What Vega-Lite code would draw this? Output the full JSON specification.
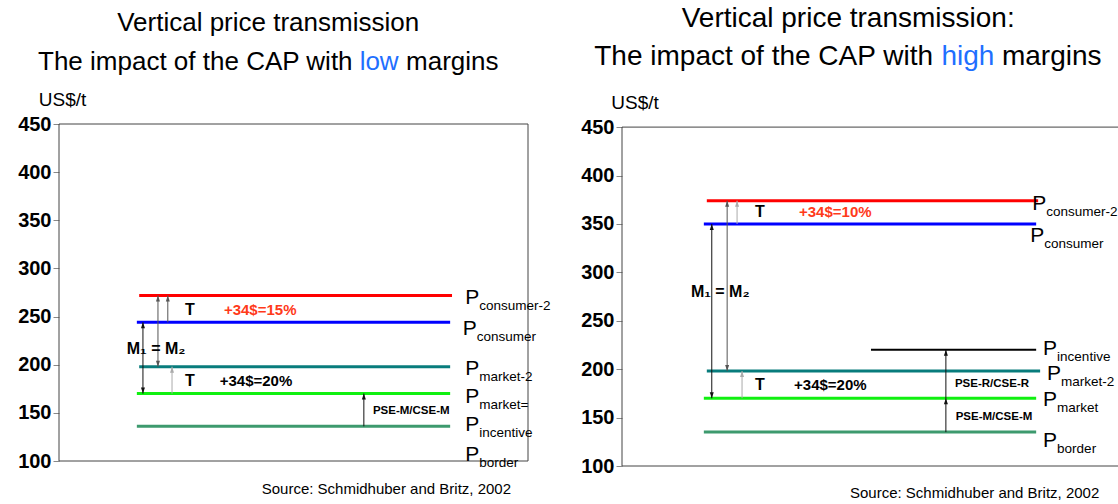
{
  "$schema": "https://vega.github.io/schema/vega-lite/v6.json",
  "background": "white",
  "padding": {"left": 17, "top": 4, "right": 0, "bottom": 0},
  "bounds": "flush",
  "spacing": 94,
  "config": {"view": {"stroke": null}, "font": "Liberation Sans"},
  "datasets": {
    "frameL": [
      {"k": "frame", "x": 0, "x2": 100, "y": 450, "y2": 450},
      {"k": "frame", "x": 0, "x2": 100, "y": 100, "y2": 100},
      {"k": "frame", "x": 0, "x2": 0, "y": 100, "y2": 450},
      {"k": "frame", "x": 100, "x2": 100, "y": 100, "y2": 450}
    ],
    "frameR": [
      {"k": "frame", "x": 0, "x2": 100, "y": 450, "y2": 450},
      {"k": "frame", "x": 0, "x2": 100, "y": 100, "y2": 100},
      {"k": "frame", "x": 0, "x2": 0, "y": 100, "y2": 450}
    ],
    "linesL": [
      {"k": "consumer-2", "x": 17.1, "x2": 83.8, "y": 272},
      {"k": "consumer", "x": 16.6, "x2": 83.4, "y": 244},
      {"k": "market-2", "x": 17.1, "x2": 83.4, "y": 198},
      {"k": "market", "x": 16.6, "x2": 83.4, "y": 170},
      {"k": "border", "x": 16.6, "x2": 83.4, "y": 136}
    ],
    "linesR": [
      {"k": "consumer-2", "x": 17.1, "x2": 83.9, "y": 374},
      {"k": "consumer", "x": 16.5, "x2": 83.5, "y": 350},
      {"k": "incentive", "x": 50.2, "x2": 83.5, "y": 220},
      {"k": "market-2", "x": 17.1, "x2": 84.3, "y": 198},
      {"k": "market", "x": 16.5, "x2": 83.5, "y": 170},
      {"k": "border", "x": 16.5, "x2": 83.5, "y": 135}
    ],
    "arrowsL": [
      {"k": "dark", "x": 17.9, "y": 170, "y2": 244, "top": true, "bottom": true},
      {"k": "mid", "x": 21.1, "y": 198, "y2": 272, "top": true, "bottom": true},
      {"k": "mid", "x": 23.2, "y": 244, "y2": 272, "top": true, "bottom": false},
      {"k": "light", "x": 24.1, "y": 170, "y2": 198, "top": true, "bottom": false},
      {"k": "dark", "x": 65.0, "y": 136, "y2": 170, "top": true, "bottom": false}
    ],
    "arrowsR": [
      {"k": "dark", "x": 18.1, "y": 170, "y2": 350, "top": true, "bottom": true},
      {"k": "mid", "x": 21.2, "y": 198, "y2": 374, "top": true, "bottom": true},
      {"k": "light", "x": 23.2, "y": 350, "y2": 374, "top": true, "bottom": false},
      {"k": "light", "x": 24.2, "y": 170, "y2": 198, "top": true, "bottom": false},
      {"k": "dark", "x": 65.3, "y": 135, "y2": 170, "top": true, "bottom": false},
      {"k": "dark", "x": 65.3, "y": 170, "y2": 220, "top": true, "bottom": false}
    ],
    "textL": [
      {"k": "ink", "sty": "t1", "x": 44.6, "y": 554.4, "text": "Vertical price transmission"},
      {"k": "ink", "sty": "t2r", "x": 62.6, "y": 513.9, "text": "The impact of the CAP with"},
      {"k": "blue", "sty": "t2l", "x": 64.1, "y": 513.9, "text": "low"},
      {"k": "ink", "sty": "t2l", "x": 74.0, "y": 513.9, "text": "margins"},
      {"k": "ink", "sty": "big", "x": 27.9, "y": 257, "text": "T"},
      {"k": "red", "sty": "pct", "x": 42.9, "y": 257, "text": "+34$=15%"},
      {"k": "ink", "sty": "big", "x": 20.7, "y": 216, "text": "M₁ = M₂"},
      {"k": "ink", "sty": "big", "x": 27.9, "y": 183, "text": "T"},
      {"k": "ink", "sty": "pct", "x": 42.0, "y": 183, "text": "+34$=20%"},
      {"k": "ink", "sty": "small", "x": 75.1, "y": 152, "text": "PSE-M/CSE-M"},
      {"k": "ink", "sty": "src", "x": 69.8, "y": 71, "text": "Source: Schmidhuber and Britz, 2002"}
    ],
    "textR": [
      {"k": "ink", "sty": "t1", "x": 45.6, "y": 561.7, "text": "Vertical price transmission:"},
      {"k": "ink", "sty": "t2r", "x": 62.7, "y": 522.1, "text": "The impact of the CAP with"},
      {"k": "blue", "sty": "t2l", "x": 64.4, "y": 522.1, "text": "high"},
      {"k": "ink", "sty": "t2l", "x": 76.6, "y": 522.1, "text": "margins"},
      {"k": "ink", "sty": "big", "x": 27.8, "y": 362, "text": "T"},
      {"k": "red", "sty": "pct", "x": 43.0, "y": 362, "text": "+34$=10%"},
      {"k": "ink", "sty": "big", "x": 19.8, "y": 280, "text": "M₁ = M₂"},
      {"k": "ink", "sty": "big", "x": 27.8, "y": 184, "text": "T"},
      {"k": "ink", "sty": "pct", "x": 42.0, "y": 184, "text": "+34$=20%"},
      {"k": "ink", "sty": "small", "x": 74.6, "y": 185, "text": "PSE-R/CSE-R"},
      {"k": "ink", "sty": "small", "x": 75.0, "y": 151, "text": "PSE-M/CSE-M"},
      {"k": "ink", "sty": "src", "x": 71.1, "y": 71.8, "text": "Source: Schmidhuber and Britz, 2002"}
    ],
    "pL": [
      {"k": "ink", "x": 86.6, "y": 269, "sub": "consumer-2"},
      {"k": "ink", "x": 86.1, "y": 237, "sub": "consumer"},
      {"k": "ink", "x": 86.6, "y": 196, "sub": "market-2"},
      {"k": "ink", "x": 86.6, "y": 166, "sub": "market="},
      {"k": "ink", "x": 86.6, "y": 137, "sub": "incentive"},
      {"k": "ink", "x": 86.6, "y": 106, "sub": "border"}
    ],
    "pR": [
      {"k": "ink", "x": 82.7, "y": 371, "sub": "consumer-2"},
      {"k": "ink", "x": 82.3, "y": 338, "sub": "consumer"},
      {"k": "ink", "x": 84.9, "y": 221, "sub": "incentive"},
      {"k": "ink", "x": 85.7, "y": 195, "sub": "market-2"},
      {"k": "ink", "x": 84.9, "y": 168, "sub": "market"},
      {"k": "ink", "x": 84.9, "y": 126, "sub": "border"}
    ]
  },
  "hconcat": [
    {
      "width": 469,
      "height": 337,
      "encoding": {
        "x": {"field": "x", "type": "quantitative", "scale": {"domain": [0, 100], "nice": false, "zero": false}, "axis": null},
        "y": {"field": "y", "type": "quantitative", "scale": {"domain": [100, 450], "nice": false, "zero": false},
          "axis": {"values": [100, 150, 200, 250, 300, 350, 400, 450], "domain": false, "grid": false, "tickSize": 6, "tickColor": "#888888", "labelFontSize": 20, "labelFontWeight": "bold", "labelColor": "#000000", "labelFont": "Liberation Sans", "labelPadding": 2,
            "title": "US$/t", "titleAngle": 0, "titleFont": "Liberation Sans", "titleFontSize": 19, "titleFontWeight": "normal", "titleColor": "#000000", "titleAlign": "center", "titleBaseline": "middle", "titleX": 3, "titleY": -24.7}},
        "color": {"field": "k", "type": "nominal", "legend": null,
          "scale": {"domain": ["consumer-2", "consumer", "incentive", "market-2", "market", "border", "dark", "mid", "light", "ink", "red", "blue", "frame"],
            "range": ["#ff0000", "#0000ff", "#000000", "#087c7c", "#10f010", "#3d9a6e", "#111111", "#555555", "#aaaaaa", "#000000", "#ff3a1a", "#1f6fff", "#444444"]}}
      },
      "layer": [
        {"data": {"name": "frameL"}, "mark": {"type": "rule", "strokeWidth": 1}, "encoding": {"x2": {"field": "x2"}, "y2": {"field": "y2"}}},
        {"data": {"name": "linesL"}, "mark": {"type": "rule", "strokeWidth": 3}, "encoding": {"x2": {"field": "x2"}}},
        {"data": {"name": "arrowsL"}, "mark": {"type": "rule", "strokeWidth": 1}, "encoding": {"y2": {"field": "y2"}}},
        {"data": {"name": "arrowsL"}, "transform": [{"filter": "datum.top"}], "mark": {"type": "point", "shape": "M0,0L-1,3L1,3Z", "filled": true, "size": 16, "opacity": 1}, "encoding": {"y": {"field": "y2", "type": "quantitative"}}},
        {"data": {"name": "arrowsL"}, "transform": [{"filter": "datum.bottom"}], "mark": {"type": "point", "shape": "M0,0L-1,-3L1,-3Z", "filled": true, "size": 16, "opacity": 1}, "encoding": {}},
        {"data": {"name": "textL"}, "transform": [{"filter": "datum.sty === 't1'"}], "mark": {"type": "text", "fontSize": 26, "align": "center", "baseline": "middle"}, "encoding": {"text": {"field": "text"}}},
        {"data": {"name": "textL"}, "transform": [{"filter": "datum.sty === 't2r'"}], "mark": {"type": "text", "fontSize": 26, "align": "right", "baseline": "middle"}, "encoding": {"text": {"field": "text"}}},
        {"data": {"name": "textL"}, "transform": [{"filter": "datum.sty === 't2l'"}], "mark": {"type": "text", "fontSize": 26, "align": "left", "baseline": "middle"}, "encoding": {"text": {"field": "text"}}},
        {"data": {"name": "textL"}, "transform": [{"filter": "datum.sty === 'big'"}], "mark": {"type": "text", "fontSize": 16, "fontWeight": "bold", "align": "center", "baseline": "middle"}, "encoding": {"text": {"field": "text"}}},
        {"data": {"name": "textL"}, "transform": [{"filter": "datum.sty === 'pct'"}], "mark": {"type": "text", "fontSize": 15, "fontWeight": "bold", "align": "center", "baseline": "middle"}, "encoding": {"text": {"field": "text"}}},
        {"data": {"name": "textL"}, "transform": [{"filter": "datum.sty === 'small'"}], "mark": {"type": "text", "fontSize": 11.5, "fontWeight": "bold", "align": "center", "baseline": "middle"}, "encoding": {"text": {"field": "text"}}},
        {"data": {"name": "textL"}, "transform": [{"filter": "datum.sty === 'src'"}], "mark": {"type": "text", "fontSize": 15, "align": "center", "baseline": "middle"}, "encoding": {"text": {"field": "text"}}},
        {"data": {"name": "pL"}, "mark": {"type": "text", "fontSize": 21, "align": "left", "baseline": "middle"}, "encoding": {"text": {"value": "P"}}},
        {"data": {"name": "pL"}, "mark": {"type": "text", "fontSize": 13.5, "align": "left", "baseline": "middle", "dx": 14, "dy": 8}, "encoding": {"text": {"field": "sub"}}}
      ]
    },
    {
      "width": 496,
      "height": 342,
      "encoding": {
        "x": {"field": "x", "type": "quantitative", "scale": {"domain": [0, 100], "nice": false, "zero": false}, "axis": null},
        "y": {"field": "y", "type": "quantitative", "scale": {"domain": [100, 453.2], "nice": false, "zero": false},
          "axis": {"values": [100, 150, 200, 250, 300, 350, 400, 450], "domain": false, "grid": false, "tickSize": 6, "tickColor": "#888888", "labelFontSize": 20, "labelFontWeight": "bold", "labelColor": "#000000", "labelFont": "Liberation Sans", "labelPadding": 2,
            "title": "US$/t", "titleAngle": 0, "titleFont": "Liberation Sans", "titleFontSize": 19, "titleFontWeight": "normal", "titleColor": "#000000", "titleAlign": "center", "titleBaseline": "middle", "titleX": 12.5, "titleY": -21.7}},
        "color": {"field": "k", "type": "nominal", "legend": null,
          "scale": {"domain": ["consumer-2", "consumer", "incentive", "market-2", "market", "border", "dark", "mid", "light", "ink", "red", "blue", "frame"],
            "range": ["#ff0000", "#0000ff", "#000000", "#087c7c", "#10f010", "#3d9a6e", "#111111", "#555555", "#aaaaaa", "#000000", "#ff3a1a", "#1f6fff", "#444444"]}}
      },
      "layer": [
        {"data": {"name": "frameR"}, "mark": {"type": "rule", "strokeWidth": 1}, "encoding": {"x2": {"field": "x2"}, "y2": {"field": "y2"}}},
        {"data": {"name": "linesR"}, "mark": {"type": "rule"}, "encoding": {"x2": {"field": "x2"}, "strokeWidth": {"condition": {"test": "datum.k === 'incentive'", "value": 2}, "value": 3}}},
        {"data": {"name": "arrowsR"}, "mark": {"type": "rule", "strokeWidth": 1}, "encoding": {"y2": {"field": "y2"}}},
        {"data": {"name": "arrowsR"}, "transform": [{"filter": "datum.top"}], "mark": {"type": "point", "shape": "M0,0L-1,3L1,3Z", "filled": true, "size": 16, "opacity": 1}, "encoding": {"y": {"field": "y2", "type": "quantitative"}}},
        {"data": {"name": "arrowsR"}, "transform": [{"filter": "datum.bottom"}], "mark": {"type": "point", "shape": "M0,0L-1,-3L1,-3Z", "filled": true, "size": 16, "opacity": 1}, "encoding": {}},
        {"data": {"name": "textR"}, "transform": [{"filter": "datum.sty === 't1'"}], "mark": {"type": "text", "fontSize": 28, "align": "center", "baseline": "middle"}, "encoding": {"text": {"field": "text"}}},
        {"data": {"name": "textR"}, "transform": [{"filter": "datum.sty === 't2r'"}], "mark": {"type": "text", "fontSize": 28, "align": "right", "baseline": "middle"}, "encoding": {"text": {"field": "text"}}},
        {"data": {"name": "textR"}, "transform": [{"filter": "datum.sty === 't2l'"}], "mark": {"type": "text", "fontSize": 28, "align": "left", "baseline": "middle"}, "encoding": {"text": {"field": "text"}}},
        {"data": {"name": "textR"}, "transform": [{"filter": "datum.sty === 'big'"}], "mark": {"type": "text", "fontSize": 16, "fontWeight": "bold", "align": "center", "baseline": "middle"}, "encoding": {"text": {"field": "text"}}},
        {"data": {"name": "textR"}, "transform": [{"filter": "datum.sty === 'pct'"}], "mark": {"type": "text", "fontSize": 15, "fontWeight": "bold", "align": "center", "baseline": "middle"}, "encoding": {"text": {"field": "text"}}},
        {"data": {"name": "textR"}, "transform": [{"filter": "datum.sty === 'small'"}], "mark": {"type": "text", "fontSize": 11.5, "fontWeight": "bold", "align": "center", "baseline": "middle"}, "encoding": {"text": {"field": "text"}}},
        {"data": {"name": "textR"}, "transform": [{"filter": "datum.sty === 'src'"}], "mark": {"type": "text", "fontSize": 15, "align": "center", "baseline": "middle"}, "encoding": {"text": {"field": "text"}}},
        {"data": {"name": "pR"}, "mark": {"type": "text", "fontSize": 21, "align": "left", "baseline": "middle"}, "encoding": {"text": {"value": "P"}}},
        {"data": {"name": "pR"}, "mark": {"type": "text", "fontSize": 13.5, "align": "left", "baseline": "middle", "dx": 14, "dy": 8}, "encoding": {"text": {"field": "sub"}}}
      ]
    }
  ]
}
